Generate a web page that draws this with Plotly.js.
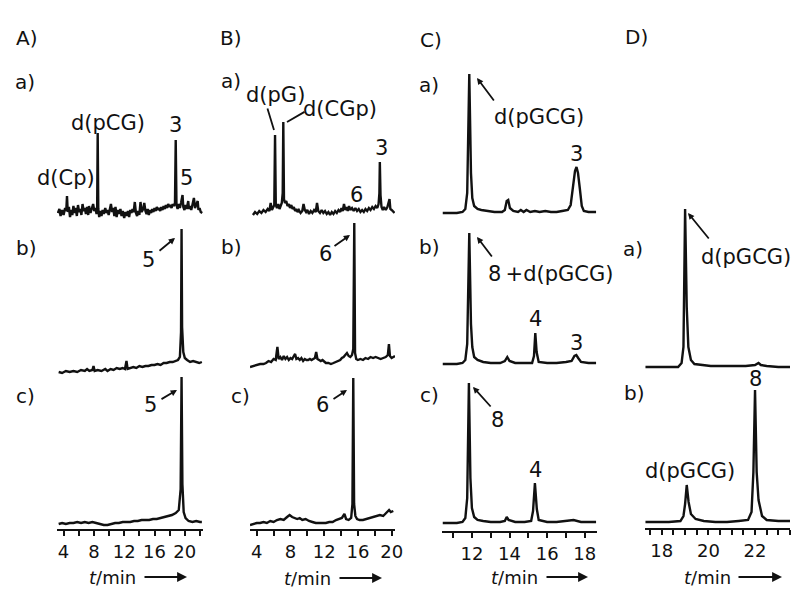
<!DOCTYPE html>
<html>
<head>
<meta charset="utf-8">
<script src="https://cdn.plot.ly/plotly-3.0.1.min.js"></script>
<style>html,body{margin:0;padding:0;background:#fff}#chart{width:800px;height:604px}</style>
</head>
<body>
<div id="chart"></div>
<script>
// ---- Data: retention time t (min), detector signal (a.u.) ----
const A_a = [[3.25,0],[3.45,4],[3.6,-3],[3.8,3],[4.0,-2],[4.2,5],[4.35,2],[4.45,17],[4.55,1],[4.7,6],[4.85,-4],[5.0,3],[5.15,-2],[5.3,7],[5.45,0],[5.6,5],[5.75,-3],[5.9,8],[6.05,1],[6.2,4],[6.35,-2],[6.5,9],[6.65,2],[6.8,5],[6.95,-1],[7.1,6],[7.25,-2],[7.35,7],[7.55,0],[7.7,5],[7.9,9],[8.05,2],[8.2,5],[8.35,-1],[8.43,6],[8.5,80],[8.58,4],[8.7,-4],[8.85,2],[9.0,-3],[9.15,3],[9.3,-1],[9.5,5],[9.65,0],[9.8,3],[9.95,-2],[10.1,4],[10.25,9],[10.4,1],[10.55,5],[10.7,-3],[10.85,6],[11.0,-4],[11.15,3],[11.3,-1],[11.5,4],[11.65,-3],[11.8,2],[12.0,-5],[12.15,1],[12.3,-3],[12.5,2],[12.65,-4],[12.8,3],[12.95,0],[13.1,4],[13.25,1],[13.4,11],[13.55,0],[13.7,-3],[13.85,2],[14.0,-2],[14.15,11],[14.3,1],[14.5,4],[14.65,10],[14.8,2],[14.95,-1],[15.1,4],[15.25,-2],[15.4,3],[15.55,0],[15.7,4],[15.85,1],[16.0,5],[16.15,2],[16.3,6],[16.45,3],[16.6,5],[16.75,2],[16.9,6],[17.05,3],[17.2,7],[17.35,4],[17.5,8],[17.65,5],[17.8,9],[17.95,6],[18.1,8],[18.25,5],[18.4,9],[18.55,7],[18.7,10],[18.8,73],[18.9,8],[19.05,4],[19.2,9],[19.35,5],[19.5,10],[19.7,18],[19.8,6],[19.95,3],[20.1,8],[20.25,4],[20.45,12],[20.55,4],[20.7,7],[20.85,3],[21.0,8],[21.2,15],[21.35,5],[21.5,8],[21.7,12],[21.8,3],[21.95,5],[22.1,1],[22.3,0]];
const A_b = [[3.35,0],[3.8,-1],[4.3,1],[4.8,0],[5.3,1],[5.8,0],[6.3,2],[6.8,1],[7.1,3],[7.4,1],[7.8,2],[7.95,6],[8.1,1],[8.5,2],[9.0,1],[9.5,3],[9.8,1],[10.2,3],[10.6,2],[11.0,4],[11.4,3],[11.8,4],[12.1,3],[12.3,11],[12.45,3],[12.8,4],[13.2,5],[13.6,4],[14.0,6],[14.4,5],[14.8,6],[15.2,6],[15.6,7],[16.0,7],[16.4,8],[16.8,7],[17.2,9],[17.6,9],[18.0,10],[18.4,10],[18.8,11],[19.1,12],[19.35,15],[19.5,40],[19.57,143],[19.64,45],[19.8,20],[20.0,14],[20.3,12],[20.7,10],[21.1,11],[21.5,10],[21.9,9],[22.25,10]];
const A_c = [[3.35,0],[3.8,1],[4.3,0],[4.8,1],[5.3,1],[5.8,2],[6.3,1],[6.8,2],[7.3,1],[7.8,2],[8.3,1],[8.8,0],[9.3,-1],[9.8,-1],[10.3,0],[10.8,1],[11.3,1],[11.8,2],[12.3,2],[12.8,2],[13.3,3],[13.8,3],[14.3,4],[14.8,4],[15.3,4],[15.8,5],[16.3,5],[16.8,6],[17.3,7],[17.8,8],[18.3,9],[18.8,11],[19.2,14],[19.45,35],[19.57,147],[19.68,40],[19.85,12],[20.1,6],[20.5,3],[21.0,2],[21.5,3],[22.0,2],[22.25,2]];
const B_a = [[3.55,-2],[3.8,1],[4.05,-1],[4.3,2],[4.55,0],[4.8,3],[5.05,1],[5.3,4],[5.5,2],[5.65,10],[5.8,3],[5.95,6],[6.08,8],[6.17,78],[6.26,8],[6.4,5],[6.55,9],[6.7,4],[6.85,8],[6.97,10],[7.08,20],[7.15,91],[7.23,14],[7.35,10],[7.5,12],[7.65,7],[7.8,9],[7.95,5],[8.1,8],[8.25,4],[8.4,6],[8.55,2],[8.7,4],[8.85,1],[9.0,3],[9.2,0],[9.4,2],[9.55,9],[9.7,3],[9.85,1],[10.0,3],[10.2,-1],[10.4,2],[10.6,0],[10.8,3],[11.0,1],[11.15,10],[11.3,2],[11.5,0],[11.7,3],[11.9,0],[12.1,2],[12.3,-1],[12.5,1],[12.7,-2],[12.9,1],[13.1,-1],[13.3,2],[13.5,0],[13.7,3],[13.9,1],[14.05,5],[14.2,2],[14.35,9],[14.5,3],[14.65,6],[14.8,2],[14.95,7],[15.1,3],[15.3,5],[15.5,2],[15.7,5],[15.9,2],[16.1,4],[16.3,1],[16.5,3],[16.7,1],[16.9,4],[17.1,2],[17.3,5],[17.5,3],[17.7,6],[17.9,4],[18.1,7],[18.3,5],[18.45,9],[18.55,20],[18.6,51],[18.68,18],[18.8,6],[18.95,3],[19.1,6],[19.3,3],[19.5,6],[19.75,14],[19.85,4],[20.0,3],[20.15,2],[20.35,0]];
const B_b = [[3.2,-2],[3.6,-1],[4.0,0],[4.4,1],[4.8,1],[5.1,2],[5.4,4],[5.7,3],[6.0,6],[6.25,5],[6.45,18],[6.6,6],[6.8,8],[7.0,5],[7.2,9],[7.4,6],[7.6,8],[7.8,5],[8.0,7],[8.2,6],[8.4,9],[8.55,11],[8.7,6],[8.9,7],[9.1,5],[9.3,7],[9.5,4],[9.7,6],[9.9,5],[10.1,5],[10.3,6],[10.5,5],[10.7,6],[10.9,7],[11.05,13],[11.2,6],[11.4,5],[11.6,4],[11.8,5],[12.0,3],[12.2,2],[12.5,2],[12.8,1],[13.1,2],[13.4,3],[13.7,4],[13.9,5],[14.1,7],[14.3,8],[14.5,10],[14.7,12],[14.9,9],[15.1,8],[15.3,10],[15.45,16],[15.57,142],[15.66,12],[15.8,6],[16.0,5],[16.3,6],[16.6,5],[16.9,7],[17.2,6],[17.5,8],[17.8,7],[18.1,8],[18.4,7],[18.7,6],[19.0,7],[19.3,8],[19.55,10],[19.68,21],[19.8,9],[20.0,7],[20.2,8],[20.4,9]];
const B_c = [[3.2,-1],[3.6,0],[4.0,1],[4.4,1],[4.8,2],[5.2,1],[5.6,3],[6.0,2],[6.4,4],[6.8,5],[7.2,4],[7.6,7],[7.9,9],[8.2,7],[8.5,6],[8.8,5],[9.1,6],[9.4,4],[9.8,5],[10.2,3],[10.6,2],[11.0,1],[11.4,1],[11.8,1],[12.2,1],[12.6,2],[13.0,2],[13.4,4],[13.8,5],[14.1,6],[14.4,10],[14.6,5],[14.9,4],[15.2,6],[15.35,20],[15.45,146],[15.55,20],[15.7,8],[15.9,5],[16.2,4],[16.6,4],[17.0,5],[17.4,6],[17.8,7],[18.2,8],[18.6,9],[19.0,8],[19.4,11],[19.7,14],[19.9,12],[20.2,13]];
const C_a = [[10.45,0],[10.8,0],[11.2,0],[11.5,1],[11.65,4],[11.75,20],[11.86,139],[11.95,40],[12.02,15],[12.12,7],[12.3,4],[12.5,3],[12.8,2],[13.2,1],[13.6,1],[13.75,3],[13.85,12],[13.93,13],[14.02,5],[14.2,2],[14.45,1],[14.6,3],[14.75,1],[14.9,3],[15.1,1],[15.35,2],[15.6,1],[15.9,2],[16.2,1],[16.5,1],[16.8,2],[17.1,3],[17.25,8],[17.38,26],[17.48,42],[17.56,46],[17.64,40],[17.74,24],[17.84,7],[17.95,2],[18.2,1],[18.6,1]];
const C_b = [[10.45,0],[10.8,0],[11.2,0],[11.5,1],[11.65,4],[11.75,20],[11.86,131],[11.95,40],[12.02,17],[12.12,7],[12.3,4],[12.6,2],[13.0,1],[13.5,1],[13.75,3],[13.88,7],[14.0,3],[14.3,1],[14.8,1],[15.2,1],[15.3,8],[15.37,31],[15.44,12],[15.55,2],[16.0,1],[16.5,1],[17.0,2],[17.3,3],[17.45,8],[17.55,9],[17.65,6],[17.8,2],[18.2,1],[18.6,1]];
const C_c = [[10.45,0],[10.8,0],[11.2,0],[11.5,1],[11.65,5],[11.75,25],[11.84,140],[11.92,45],[12.0,15],[12.12,6],[12.3,3],[12.6,2],[13.0,1],[13.5,1],[13.75,2],[13.85,6],[13.95,3],[14.3,1],[14.8,1],[15.15,2],[15.25,12],[15.35,40],[15.45,14],[15.55,3],[16.0,1],[16.5,1],[17.0,2],[17.4,3],[17.8,1],[18.2,1],[18.6,1]];
const D_a = [[17.3,0],[17.8,0],[18.3,0],[18.7,0],[18.85,4],[18.93,20],[19.0,158],[19.07,60],[19.14,20],[19.25,7],[19.4,3],[19.7,2],[20.1,1],[20.6,1],[21.1,1],[21.6,1],[22.0,2],[22.15,4],[22.25,2],[22.5,1],[23.0,0],[23.5,0]];
const D_b = [[17.3,0],[17.8,0],[18.3,0],[18.8,1],[18.93,6],[19.0,18],[19.07,37],[19.15,20],[19.25,8],[19.45,3],[19.8,1],[20.3,0],[20.8,0],[21.3,1],[21.7,2],[21.85,10],[21.93,50],[22.0,132],[22.07,50],[22.15,22],[22.3,6],[22.5,2],[23.0,1],[23.5,1]];

// tick labels per column
const ticksA = [4, 8, 12, 16, 20];
const ticksB = [4, 8, 12, 16, 20];
const ticksC = [12, 14, 16, 18];
const ticksD = [18, 20, 22];

// ---- Layout geometry ----
const W = 800, H = 604;
const FONT = 'DejaVu Sans, Verdana, sans-serif';
const INK = '#111';
const cols = {
  A: {x0: 57, x1: 203, range: [3.13, 22.4], ticks: ticksA, minor: 2},
  B: {x0: 250, x1: 395, range: [3.2, 20.4], ticks: ticksB, minor: 2},
  C: {x0: 442, x1: 597, range: [10.41, 18.65], ticks: ticksC, minor: 1},
  D: {x0: 645, x1: 790, range: [17.28, 23.5], ticks: ticksD, minor: 0.5}
};
const panels = [
  {col: 'A', pts: A_a, yb: 213},
  {col: 'A', pts: A_b, yb: 372},
  {col: 'A', pts: A_c, yb: 524, axisY: 529},
  {col: 'B', pts: B_a, yb: 213},
  {col: 'B', pts: B_b, yb: 365},
  {col: 'B', pts: B_c, yb: 524, axisY: 529},
  {col: 'C', pts: C_a, yb: 213},
  {col: 'C', pts: C_b, yb: 364},
  {col: 'C', pts: C_c, yb: 523, axisY: 531},
  {col: 'D', pts: D_a, yb: 367},
  {col: 'D', pts: D_b, yb: 522, axisY: 528}
];
const TOP = 170;

const traces = [];
const layout = {
  width: W, height: H,
  margin: {l: 0, r: 0, t: 0, b: 0},
  paper_bgcolor: '#fff', plot_bgcolor: 'rgba(0,0,0,0)',
  showlegend: false,
  font: {family: FONT, color: INK},
  annotations: []
};

panels.forEach((p, i) => {
  const k = i + 1;
  const sfx = k === 1 ? '' : String(k);
  const c = cols[p.col];
  const lo = p.axisY ? -(p.axisY - p.yb) : -6;
  const bottomPx = p.yb - lo, topPx = p.yb - TOP;
  layout['yaxis' + sfx] = {
    domain: [1 - bottomPx / H, 1 - topPx / H], range: [lo, TOP],
    visible: false, fixedrange: true, anchor: 'x' + sfx
  };
  const xa = {
    domain: [c.x0 / W, c.x1 / W], range: c.range, anchor: 'y' + sfx,
    fixedrange: true, showgrid: false, zeroline: false
  };
  if (p.axisY) {
    Object.assign(xa, {
      visible: true, showline: true, linewidth: 2, linecolor: INK,
      tickmode: 'array', tickvals: c.ticks, ticktext: c.ticks.map(String),
      ticks: 'outside', ticklen: 5, tickwidth: 2, tickcolor: INK,
      minor: {dtick: c.minor, tick0: c.ticks[0], ticks: 'outside', ticklen: 5, tickwidth: 2, tickcolor: INK},
      tickfont: {family: FONT, size: 18, color: INK}
    });
  } else {
    xa.visible = false;
  }
  layout['xaxis' + sfx] = xa;
  traces.push({
    type: 'scatter', mode: 'lines',
    x: p.pts.map(d => d[0]), y: p.pts.map(d => d[1]),
    xaxis: 'x' + sfx, yaxis: 'y' + sfx,
    line: {color: INK, width: 2.4}, hoverinfo: 'skip'
  });
});

// ---- Text ----
function txt(s, cx, cy, size) {
  layout.annotations.push({
    xref: 'paper', yref: 'paper', x: cx / W, y: 1 - cy / H,
    xanchor: 'center', yanchor: 'middle', text: s, showarrow: false,
    font: {family: FONT, size: size || 21, color: INK}
  });
}
function arrow(hx, hy, tx, ty, head, size) {
  layout.annotations.push({
    xref: 'paper', yref: 'paper', axref: 'paper', ayref: 'paper',
    x: hx / W, y: 1 - hy / H, ax: tx / W, ay: 1 - ty / H,
    text: '', showarrow: true, arrowhead: head, arrowsize: size || 1,
    arrowwidth: 1.8, arrowcolor: INK, standoff: 0, startstandoff: 0
  });
}
// column headings
txt('A)', 26, 38, 20); txt('B)', 231, 38, 20); txt('C)', 431, 40, 20); txt('D)', 636, 37, 20);
// row labels
txt('a)', 25, 82, 20); txt('a)', 231, 81, 20); txt('a)', 429, 85, 20);
txt('b)', 26, 248, 20); txt('b)', 232, 247, 20); txt('b)', 429, 247, 20); txt('a)', 633, 249, 20);
txt('c)', 25, 396, 20); txt('c)', 240, 396, 20); txt('c)', 429, 395, 20); txt('b)', 634, 393, 20);
// peak labels
txt('d(Cp)', 66, 178); txt('d(pCG)', 108, 123); txt('3', 175, 125); txt('5', 186, 178);
txt('5', 148, 260); arrow(175, 238, 158, 252, 2, 0.7);
txt('5', 150, 405); arrow(177, 390, 160, 400, 2, 0.7);
txt('d(pG)', 275, 95); arrow(274, 130, 267, 107, 0);
txt('d(CGp)', 340, 109); arrow(287, 122, 306, 111, 0);
txt('3', 381, 148); txt('6', 356, 195);
txt('6', 325, 254); arrow(350, 235, 333, 247, 2, 0.7);
txt('6', 322, 405); arrow(347, 390, 332, 400, 2, 0.7);
txt('d(pGCG)', 539, 117); arrow(477, 78, 495, 102, 2, 0.7); txt('3', 576, 154);
txt('8\u2009+d(pGCG)', 550, 274); arrow(477, 237, 493, 258, 2, 0.7);
txt('4', 535, 319); txt('3', 576, 343);
txt('8', 497, 420); arrow(473, 387, 492, 408, 2, 0.7); txt('4', 535, 470);
txt('d(pGCG)', 746, 257); arrow(688, 213, 710, 240, 2, 0.7);
txt('8', 755, 379); txt('d(pGCG)', 690, 471);
// axis captions
txt('<i>t</i>/min', 113, 577, 18); arrow(187, 577, 143, 577, 2, 1.1);
txt('<i>t</i>/min', 307, 578, 18); arrow(382, 578, 338, 578, 2, 1.1);
txt('<i>t</i>/min', 514, 577, 18); arrow(588, 577, 545, 577, 2, 1.1);
txt('<i>t</i>/min', 707, 577, 18); arrow(782, 577, 737, 577, 2, 1.1);

Plotly.newPlot('chart', traces, layout, {staticPlot: true, displayModeBar: false});
</script>
</body>
</html>
